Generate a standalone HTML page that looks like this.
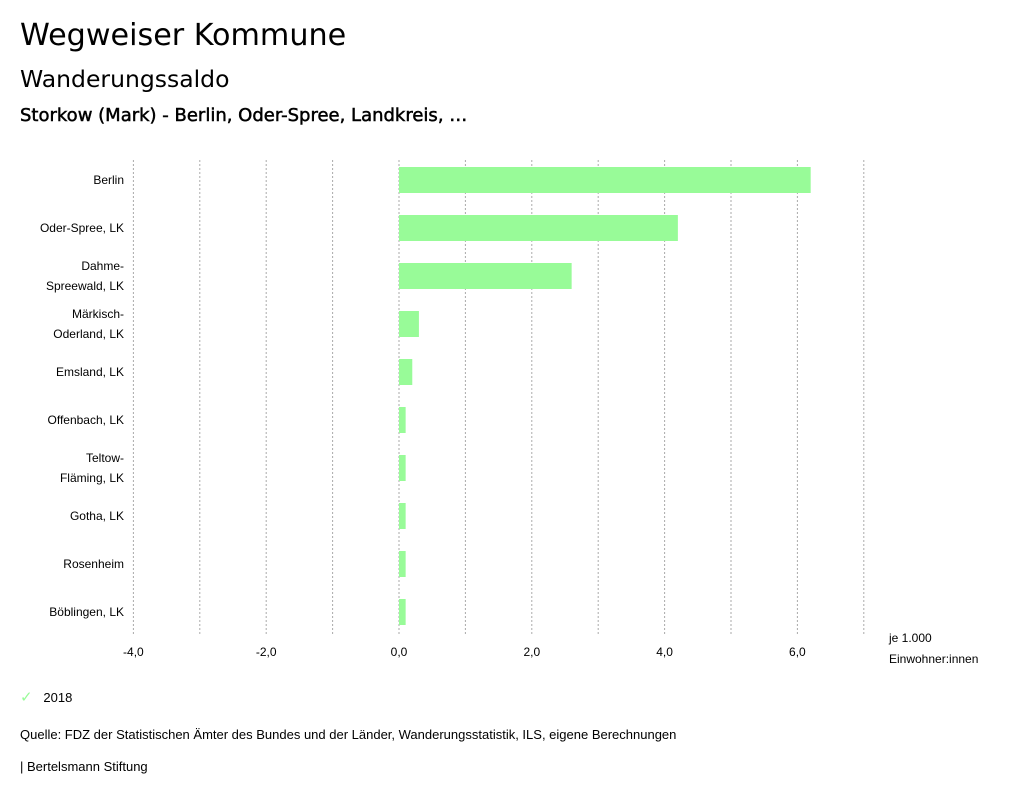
<!DOCTYPE html>
<html><head><meta charset="utf-8"><style>
body{margin:0;width:1024px;height:799px;background:#fff;font-family:"Liberation Sans","DejaVu Sans",sans-serif;color:#000;overflow:hidden;position:relative}
.t{position:absolute;white-space:nowrap}
.d{font-family:"DejaVu Sans",sans-serif}
</style></head><body>
<div class="t d" style="left:20px;top:18px;font-size:30.2px">Wegweiser Kommune</div>
<div class="t d" style="left:20px;top:65px;font-size:23.5px">Wanderungssaldo</div>
<div class="t d" style="left:20px;top:105px;font-size:18px;-webkit-text-stroke:0.5px #000">Storkow (Mark) - Berlin, Oder-Spree, Landkreis, …</div>
<svg id="chart" width="1024" height="799" style="position:absolute;left:0;top:0"></svg>
<div class="t" style="left:20px;top:688px;font-size:13px"><span style="color:#98fb98;font-size:15px;font-weight:bold">✓</span>&nbsp;&nbsp;&nbsp;2018</div>
<div class="t" style="left:20px;top:727px;font-size:13px">Quelle: FDZ der Statistischen Ämter des Bundes und der Länder, Wanderungsstatistik, ILS, eigene Berechnungen</div>
<div class="t" style="left:20px;top:759px;font-size:13px">| Bertelsmann Stiftung</div>
<script>
const categories=[["Berlin"],["Oder-Spree, LK"],["Dahme-","Spreewald, LK"],["Märkisch-","Oderland, LK"],["Emsland, LK"],["Offenbach, LK"],["Teltow-","Fläming, LK"],["Gotha, LK"],["Rosenheim"],["Böblingen, LK"]];
const values=[6.2,4.2,2.6,0.3,0.2,0.1,0.1,0.1,0.1,0.1];
const ticks=[-4,-2,0,2,4,6];
const gridVals=[-4,-3,-2,-1,0,1,2,3,4,5,6,7];
const ns="http://www.w3.org/2000/svg";
const svg=document.getElementById('chart');
const x=v=>399+v*66.4;
const y=i=>180+i*48;
function mk(t,a){const e=document.createElementNS(ns,t);for(const k in a)e.setAttribute(k,a[k]);svg.appendChild(e);return e;}
gridVals.forEach(v=>{const l=mk('line',{x1:x(v),x2:x(v),y1:160,y2:636,stroke:'#aaa','stroke-dasharray':'2,2','stroke-width':1});

});
ticks.forEach(v=>{const t=mk('text',{x:x(v),y:656,'text-anchor':'middle','font-size':12});t.textContent=v.toFixed(1).replace('.',',');

});
values.forEach((v,i)=>{const r=mk('rect',{x:Math.min(x(0),x(v)),y:y(i)-13,width:Math.abs(x(v)-x(0)),height:26,fill:'#98fb98'});


const lines=categories[i];lines.forEach((s,j)=>{const t=mk('text',{x:124,y:y(i)+4+(j-(lines.length-1)/2)*20,'text-anchor':'end','font-size':12});t.textContent=s;

});});
[["je 1.000",642],["Einwohner:innen",663]].forEach(([s,yy])=>{const t=mk('text',{x:889,y:yy,'font-size':12});t.textContent=s;

});
</script>
</body></html>
